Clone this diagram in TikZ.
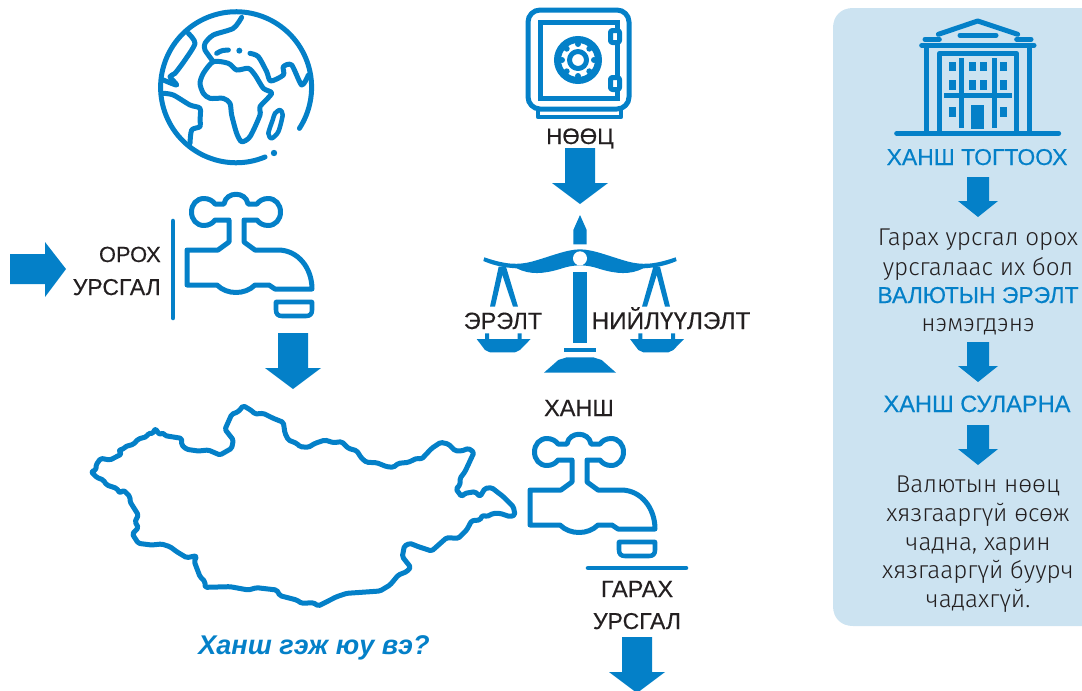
\documentclass[tikz,border=0pt]{standalone}
\usepackage{fontspec}
\setmainfont{Liberation Sans}
\newfontfamily\medf[FakeBold=0.35]{Liberation Sans}
\newfontfamily\lightf[UprightFont=* Light]{Fira Sans}
\definecolor{bl}{HTML}{0480C8}
\definecolor{pan}{HTML}{CCE3F1}
\definecolor{ink}{HTML}{231F20}
\newcommand{\downblock}[2]{% cx, top : shaft width 30, shaft 35, head 56x21
  \fill[bl] (#1-15,#2) -- (#1+15,#2) -- (#1+15,#2+35) -- (#1+28,#2+35) -- (#1,#2+56) -- (#1-28,#2+35) -- (#1-15,#2+35) -- cycle;}
\newcommand{\smalldown}[2]{%
  \fill[bl] (#1-11,#2) -- (#1+11,#2) -- (#1+11,#2+24) -- (#1+20,#2+24) -- (#1,#2+40) -- (#1-20,#2+24) -- (#1-11,#2+24) -- cycle;}
\tikzset{
  line/.style={draw=bl,line width=3.75pt,line join=round,line cap=round},
  thin line/.style={draw=bl,line width=3.4pt,line join=round,line cap=round},
  lab/.style={anchor=base,text=ink,font=\medf\fontsize{17.6}{18}\selectfont,inner sep=0pt},
  labr/.style={lab,anchor=base east},
  head/.style={lab,text=bl,font=\medf\fontsize{17.2}{18}\selectfont},
  body/.style={lab,font=\lightf\fontsize{18.2}{19}\selectfont},
  faucet/.pic={
    \draw[line] (187,250) -- (218,250) -- (229,242) -- (229,220) -- (215,220)
      .. controls (213,223) and (209,225.5) .. (204,225.5)
      .. controls (196.5,225.5) and (191.5,219.5) .. (191.5,212)
      .. controls (191.5,204.5) and (196.5,198.5) .. (204,198.5)
      .. controls (209,198.5) and (213,201) .. (215,204) -- (224,204)
      .. controls (226,191) and (246,191) .. (248,204) -- (257,204)
      .. controls (259,201) and (263,198.5) .. (268,198.5)
      .. controls (275.5,198.5) and (280.5,204.5) .. (280.5,212)
      .. controls (280.5,219.5) and (275.5,225.5) .. (268,225.5)
      .. controls (263,225.5) and (259,223) .. (257,220) -- (244,220) -- (244,242) -- (255,250) -- (278,250)
      .. controls (298,250) and (312,268) .. (312,289) -- (275,289) -- (269,285) -- (255,285)
      .. controls (245,295) and (227,295) .. (217,285) -- (187,285) -- cycle;
    \draw[thin line,line cap=butt] (276,302) -- (276,310) .. controls (276,314) and (278,316) .. (282,316) -- (306,316) .. controls (310,316) and (312,314) .. (312,310) -- (312,302) -- cycle;
  }
}
\begin{document}
\begin{tikzpicture}[x=0.75pt,y=-0.75pt]
\useasboundingbox (0,0) rectangle (1082,690);
% panel
\fill[pan] (1082,8) -- (853,8) .. controls (841,8) and (833,16) .. (833,28) -- (833,606) .. controls (833,618) and (841,626) .. (853,626) -- (1082,626) -- cycle;
% globe
\draw[line] (265,157) arc[start angle=-67.5,end angle=-393,radius=75.5*0.75pt];
\fill[bl] (274,153) circle[radius=3.2];
\begin{scope}[x=0.25pt,y=-0.25pt]
\draw[line] plot[smooth,tension=.45] coordinates {(725,52)(700,85)(640,105)(615,130)(615,150)(640,185)};
\draw[line] plot[smooth cycle,tension=.45] coordinates {(640,185)(610,220)(600,250)(610,280)(630,295)(670,295)(690,310)(695,345)(710,400)(725,425)(750,410)(780,345)(780,320)(815,280)(790,265)(765,225)(745,205)(710,210)(685,190)};
\draw[line] plot[smooth,tension=.45] coordinates {(750,160)(775,170)(800,215)(812,243)(850,225)(850,200)(875,195)(905,255)(925,225)};
\draw[line] (650,160) .. controls (665,150) and (675,150) .. (685,150);
\fill[bl] (718,152) circle[radius=9];
\draw[line] plot[smooth,tension=.45] coordinates {(565,100)(585,130)(555,180)(525,220)(510,230)(530,255)(490,240)};
\draw[line] plot[smooth,tension=.45] coordinates {(490,280)(520,285)(570,315)(600,325)(600,360)(600,380)(575,390)(570,430)};
\draw[thin line] plot[smooth cycle,tension=.45] coordinates {(840,330)(848,345)(835,395)(815,415)(805,400)(818,360)(825,340)};
\end{scope}
% faucets
\pic at (0,0) {faucet};
\pic at (343,240) {faucet};
\draw[thin line] (173,221) -- (173,318);
\draw[thin line] (588,568) -- (686,568);
% block arrows
\fill[bl] (10,254) -- (45,254) -- (45,242) -- (66,269) -- (45,297) -- (45,284) -- (10,284) -- cycle;
\downblock{293}{333}
\downblock{580}{148}
\downblock{637}{637}
\smalldown{978}{177}
\smalldown{978}{342}
\smalldown{978}{425}
% Mongolia
\begin{scope}[shift={(70,390)},x=0.25pt,y=-0.25pt]
\draw[line,rounded corners=1.2pt] (520,47)--(545,62)--(555,72)--(580,70)--(610,85)--(640,97)--(645,130)--(655,150)--(680,160)--(690,170)--(715,172)--(735,160)--(765,150)--(790,158)--(815,155)--(835,175)--(860,182)--(875,205)--(890,217)--(920,218)--(950,230)--(970,232)--(985,220)--(1015,217)--(1040,205)--(1055,207)--(1085,175)--(1112,157)--(1135,162)--(1155,182)--(1175,183)--(1195,175)--(1212,187)--(1185,245)--(1170,265)--(1170,285)--(1158,297)--(1175,320)--(1185,310)--(1215,305)--(1230,320)--(1245,295)--(1265,293)--(1300,320)--(1330,350)--(1335,375)--(1320,380)--(1290,370)--(1270,370)--(1250,380)--(1238,375)--(1230,390)--(1205,392)--(1190,420)--(1165,445)--(1130,443)--(1085,483)--(1045,470)--(1020,460)--(1003,468)--(997,500)--(1022,532)--(1010,545)--(985,555)--(960,585)--(930,603)--(830,610)--(800,620)--(745,648)--(730,638)--(695,640)--(680,630)--(630,617)--(620,600)--(560,593)--(535,600)--(480,590)--(405,592)--(405,575)--(390,560)--(373,515)--(380,497)--(350,503)--(320,485)--(300,470)--(275,462)--(245,465)--(205,460)--(187,432)--(205,413)--(195,395)--(205,375)--(180,335)--(180,320)--(160,300)--(150,310)--(140,295)--(110,285)--(100,270)--(80,262)--(63,245)--(78,240)--(78,225)--(92,205)--(120,210)--(155,192)--(145,180)--(160,178)--(165,170)--(190,163)--(205,147)--(230,140)--(235,130)--(250,130)--(255,115)--(270,135)--(278,127)--(285,137)--(335,145)--(335,165)--(350,178)--(385,183)--(415,180)--(450,195)--(485,175)--(490,150)--(465,118)--(485,73)--(505,65)--cycle;
\end{scope}
% safe
\draw[line,rounded corners=9pt] (528,10) rectangle (629,109);
\draw[line,line join=miter] (540,22) rectangle (617,98);
\draw[line,fill=white,rounded corners=1.5pt] (610.5,30.5) rectangle (619.5,42.5);
\draw[line,fill=white,rounded corners=1.5pt] (610.5,77.5) rectangle (619.5,89.5);
\draw[thin line,line cap=butt] (538,110) -- (538,117) -- (621,117) -- (621,110);
\draw[draw=bl,line width=5.25pt] (578,60) circle[radius=20.5];
\draw[line] (578,60) circle[radius=8.5];
\foreach \a in {0,45,...,315} \fill[bl] (578,60) ++(\a:16) circle[radius=3];
% scales
\begin{scope}[shift={(440,0)},x=0.25pt,y=-0.25pt]
\fill[bl] (400,815) rectangle (440,1030);
\fill[bl] (400,733) -- (400,690) -- (420,645) -- (440,690) -- (440,733) -- cycle;
\fill[bl] (133,772) .. controls (200,795) and (235,795) .. (275,785) .. controls (330,770) and (380,748) .. (420,748) .. controls (460,748) and (510,770) .. (565,785) .. controls (605,795) and (640,795) .. (707,772) -- (710,783) .. controls (670,800) and (640,803) .. (610,805) .. controls (570,825) and (530,822) .. (480,807) .. controls (460,800) and (440,796) .. (420,796) .. controls (400,796) and (380,800) .. (360,807) .. controls (310,822) and (270,825) .. (230,805) .. controls (200,803) and (170,800) .. (130,783) -- cycle;
\fill[white] (420,775) circle[radius=21];
\fill[bl] (176,800) -- (150,920) -- (165,920) -- (187,825) -- (219,920) -- (234,920) -- (198,800) -- cycle;
\fill[bl] (640,800) -- (606,920) -- (621,920) -- (650,825) -- (675,920) -- (690,920) -- (660,800) -- cycle;
\fill[bl] (110,1017) -- (135,1017) -- (135,1000) -- (147,1000) -- (147,1017) -- (233,1017) -- (233,1000) -- (245,1000) -- (245,1017) -- (272,1017) -- (240,1050) -- (225,1057) -- (150,1057) -- (135,1050) -- cycle;
\fill[bl] (570,1017) -- (595,1017) -- (595,1000) -- (607,1000) -- (607,1017) -- (693,1017) -- (693,1000) -- (705,1000) -- (705,1017) -- (732,1017) -- (700,1050) -- (685,1057) -- (610,1057) -- (595,1050) -- cycle;
\fill[bl] (372,1043) rectangle (468,1057);
\fill[bl] (312,1118) -- (355,1080) -- (380,1072) -- (460,1072) -- (485,1080) -- (528,1118) -- cycle;
\end{scope}
% building
\begin{scope}[shift={(830,0)},x=0.25pt,y=-0.25pt]
\draw[line] (200,400) -- (686,400);
\draw[line,line cap=butt] (290,136) -- (290,400);
\draw[line,line cap=butt] (597,136) -- (597,400);
\draw[line] (275,136) -- (612,136);
\draw[line] (285,118) -- (328,118);
\draw[line] (560,118) -- (603,118);
\draw[line] (390,106) -- (498,106);
\draw[line] (325,103) -- (443,63) -- (563,103);
\draw[line,line cap=butt] (328,400) -- (328,160) -- (560,160) -- (560,400);
\draw[line,line cap=butt] (393,175) -- (393,385);
\draw[line,line cap=butt] (493,175) -- (493,385);
\draw[line,line cap=butt] (342,285) -- (545,285);
\foreach \x in {357,417,450,510} {
  \fill[bl] (\x,185) rectangle ++(20,28);
  \fill[bl] (\x,240) rectangle ++(20,30);
}
\fill[bl] (357,322) rectangle ++(20,30);
\fill[bl] (510,322) rectangle ++(20,30);
\fill[bl] (423,315) rectangle (463,388);
\end{scope}
% labels
\node[labr,font=\medf\fontsize{16.4}{18}\selectfont] (orox) at (161,262) {ОРОХ};
\node[labr,font=\medf\fontsize{17.2}{18}\selectfont] (ursgal1) at (161,295) {УРСГАЛ};
\node[lab,font=\medf\fontsize{16.8}{18}\selectfont] (nootz) at (580,144) {НӨӨЦ};
\node[lab] (erelt) at (503,329) {ЭРЭЛТ};
\node[lab,font=\medf\fontsize{18.2}{18}\selectfont] (niil) at (671,329) {НИЙЛҮҮЛЭЛТ};
\node[lab] (hansh) at (579,416) {ХАНШ};
\node[lab] (garah) at (637,597) {ГАРАХ};
\node[lab,font=\medf\fontsize{17.2}{18}\selectfont] (ursgal2) at (637,629) {УРСГАЛ};
\node[lab,text=bl,font=\fontsize{20.3}{22}\selectfont\itshape\bfseries] (title) at (314,654) {Ханш гэж юу вэ?};
\node[head] (togtooh) at (977,165) {ХАНШ ТОГТООХ};
\node[body] (b1) at (978,245) {Гарах урсгал орох};
\node[body] (b2) at (978,275) {урсгалаас их бол};
\node[head] (b3) at (978,303) {ВАЛЮТЫН ЭРЭЛТ};
\node[body] (b4) at (978,331) {нэмэгдэнэ};
\node[head,font=\medf\fontsize{17.7}{18}\selectfont] (sularna) at (977,412) {ХАНШ СУЛАРНА};
\node[body] (c1) at (978,492) {Валютын нөөц};
\node[body] (c2) at (978,521) {хязгааргүй өсөж};
\node[body] (c3) at (978,550) {чадна, харин};
\node[body] (c4) at (978,578) {хязгааргүй буурч};
\node[body] (c5) at (978,607) {чадахгүй.};
\end{tikzpicture}
\end{document}
